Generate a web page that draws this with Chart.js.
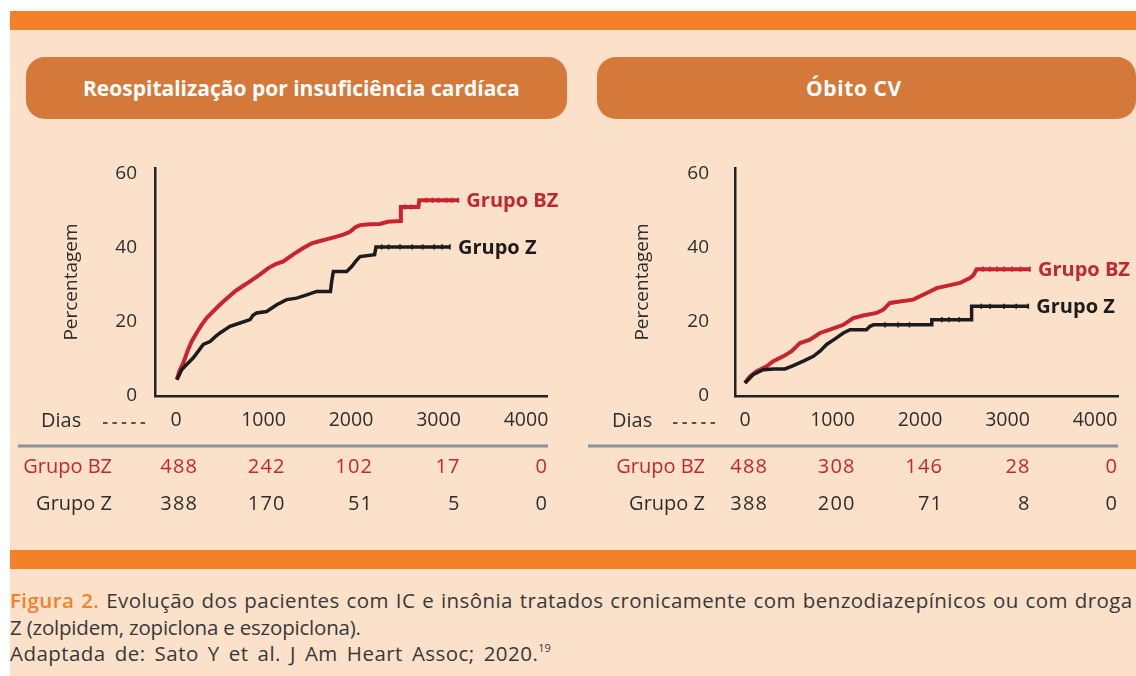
<!DOCTYPE html>
<html><head><meta charset="utf-8">
<script src="https://cdn.jsdelivr.net/npm/chart.js@4.4.1/dist/chart.umd.min.js"></script>
<style>
html,body{margin:0;padding:0;background:#fff;width:1136px;height:676px;overflow:hidden;font-family:"Open Sans",sans-serif;}
#panel{position:absolute;left:10px;top:11px;width:1126px;height:665px;background:#FCE1CA;}
.bar{position:absolute;left:10px;width:1126px;height:19px;background:#F5802A;}
.tbox{position:absolute;top:57px;height:62px;background:#D5793B;border-radius:19px;}
.ttext{position:absolute;top:57px;height:62px;line-height:62px;color:#fff;font-weight:700;font-size:21px;white-space:nowrap;}
canvas{position:absolute;}
#cap{position:absolute;left:10px;top:587px;width:1126px;font-size:20.5px;line-height:26.5px;color:#383838;white-space:nowrap;overflow:hidden;}
#cap .fig{color:#F5802A;font-weight:600;}
#cap sup{font-size:11px;vertical-align:baseline;position:relative;top:-9px;letter-spacing:0;}
</style></head>
<body>
<div id="panel"></div>
<div class="bar" style="top:11px"></div>
<div class="bar" style="top:550px"></div>
<div class="tbox" style="left:26px;width:541px"></div>
<div class="tbox" style="left:597px;width:539px"></div>
<div class="ttext" id="t1" style="left:83px"></div>
<div class="ttext" id="t2" style="left:806px;letter-spacing:0.6px"></div>
<canvas id="c1" width="565" height="410" style="left:10px;top:130px"></canvas>
<canvas id="c2" width="556" height="410" style="left:580px;top:130px"></canvas>
<div id="cap">
<div style="letter-spacing:0.42px;word-spacing:1.1px"><span class="fig">Figura 2.</span> Evolução dos pacientes com IC e insônia tratados cronicamente com benzodiazepínicos ou com droga</div>
<div style="letter-spacing:-0.2px">Z (zolpidem, zopiclona e eszopiclona).</div>
<div style="letter-spacing:0.45px;word-spacing:3.3px">Adaptada de: Sato Y et al. J Am Heart Assoc; 2020.<sup>19</sup></div>
</div>
<script>
// ---- data ----
const panelTitles = ['Reospitalização por insuficiência cardíaca', 'Óbito CV'];
const groups = ['Grupo BZ', 'Grupo Z'];
const xTicks = [0, 1000, 2000, 3000, 4000];
const yTicks = [0, 20, 40, 60];
const yTitle = 'Percentagem';
const xRowLabel = 'Dias';

// Reospitalização por insuficiência cardíaca: [dias, %]
const reospBZ = [[10,4.4],[40,6.8],[84,8.9],[130,12.0],[179,14.7],[240,17.2],[293,19.2],[350,21.0],[408,22.4],[475,24.0],[541,25.5],[610,26.9],[674,28.2],[760,29.6],[846,30.9],[950,32.6],[1055,34.5],[1140,35.6],[1227,36.3],[1340,38.2],[1455,39.9],[1550,41.2],[1646,41.8],[1740,42.4],[1836,43.0],[1920,43.6],[1989,44.3],[2050,45.5],[2103,46.1],[2220,46.3],[2331,46.4],[2420,47.0],[2560,47.2],[2570,51.0],[2770,51.0],[2781,52.8],[3227,52.8]];
const reospZ = [[10,4.4],[65,7.1],[122,8.5],[198,10.3],[255,12.1],[312,13.9],[389,14.7],[450,16.0],[503,17.0],[617,18.8],[731,19.7],[846,20.6],[880,21.8],[922,22.4],[1036,22.8],[1100,23.8],[1151,24.6],[1265,26.0],[1379,26.4],[1494,27.3],[1608,28.2],[1765,28.2],[1779,30.9],[1798,33.6],[1951,33.6],[2008,34.9],[2060,36.5],[2103,37.6],[2270,38.1],[2285,40.2],[3131,40.2]];
const reospBZCensor = [[2620,51.0],[2690,51.0],[2860,52.8],[2930,52.8],[3000,52.8],[3090,52.8],[3150,52.8],[3227,52.8]];
const reospZCensor = [[2350,40.2],[2430,40.2],[2560,40.2],[2700,40.2],[2820,40.2],[2950,40.2],[3040,40.2],[3131,40.2]];
// Óbito CV: [dias, %]
const obitoBZ = [[0,3.5],[57,5.3],[133,6.7],[248,8.0],[324,9.4],[438,10.7],[533,12.1],[629,14.3],[743,15.2],[857,17.0],[971,17.9],[1124,19.2],[1238,21.0],[1352,21.7],[1505,22.4],[1581,23.3],[1657,25.1],[1771,25.5],[1924,26.0],[2000,26.9],[2114,28.2],[2190,29.1],[2305,29.7],[2457,30.5],[2571,31.8],[2610,32.6],[2648,34.2],[3257,34.2]];
const obitoZ = [[0,3.5],[95,5.8],[210,7.1],[324,7.3],[457,7.3],[552,8.2],[667,9.4],[781,10.7],[857,12.1],[933,13.9],[1029,15.4],[1124,17.0],[1200,17.9],[1390,17.9],[1430,18.8],[1467,19.2],[2130,19.2],[2135,20.6],[2585,20.6],[2590,24.2],[3238,24.2]];
const obitoBZCensor = [[2720,34.2],[2800,34.2],[2880,34.2],[2960,34.2],[3050,34.2],[3150,34.2],[3257,34.2]];
const obitoZCensor = [[1600,19.2],[1750,19.2],[1880,19.2],[2250,20.6],[2330,20.6],[2450,20.6],[2700,24.2],[2800,24.2],[2960,24.2],[3100,24.2],[3238,24.2]];

// números em risco
const riskReospBZ = [488, 242, 102, 17, 0];
const riskReospZ = [388, 170, 51, 5, 0];
const riskObitoBZ = [488, 308, 146, 28, 0];
const riskObitoZ = [388, 200, 71, 8, 0];

// ---- styles ----
const RED = '#C8242F', BLACK = '#1c1c1c', TXT = '#2e2e2e', RED_TXT = '#C1272D';
const FONT = '"Open Sans", sans-serif';

document.getElementById('t1').textContent = panelTitles[0];
document.getElementById('t2').textContent = panelTitles[1];

const toXY = arr => arr.map(([x, y]) => ({x, y}));

function makeTablePlugin(t) {
  return {
    id: 'riskTable',
    afterDraw(chart) {
      const ctx = chart.ctx, xs = chart.scales.x;
      ctx.save();
      ctx.font = '20px ' + FONT;
      ctx.textBaseline = 'alphabetic';
      ctx.fillStyle = TXT;
      ctx.textAlign = 'left';
      ctx.fillText(xRowLabel, t.diasX, t.diasY);
      ctx.strokeStyle = TXT; ctx.lineWidth = 1.6;
      for (let i = 0; i < 5; i++) {
        const x = t.dashX + i * 9.4;
        ctx.beginPath(); ctx.moveTo(x, t.diasY - 4); ctx.lineTo(x + 4.5, t.diasY - 4); ctx.stroke();
      }
      ctx.strokeStyle = '#8c9299'; ctx.lineWidth = 3;
      ctx.beginPath(); ctx.moveTo(t.ruleL, t.ruleY); ctx.lineTo(t.ruleR, t.ruleY); ctx.stroke();
      t.rows.forEach(r => {
        ctx.fillStyle = r.color;
        ctx.textAlign = 'right';
        ctx.letterSpacing = '0px';
        ctx.fillText(r.label, t.labelR, r.y);
        ctx.letterSpacing = '1.2px';
        r.values.forEach((v, i) => ctx.fillText(String(v), xs.getPixelForValue(xTicks[i]) + t.numOff + 1.2, r.y));
      });
      ctx.restore();
    },
    afterDatasetsDraw(chart) {
      const ctx = chart.ctx;
      ctx.save();
      ctx.font = 'bold 20px ' + FONT;
      ctx.textAlign = 'left';
      ctx.textBaseline = 'alphabetic';
      chart.data.datasets.forEach((ds, i) => {
        if (!ds.endLabel) return;
        const pts = chart.getDatasetMeta(i).data;
        const p = pts[pts.length - 1];
        ctx.fillStyle = ds.endColor;
        ctx.fillText(ds.endLabel, p.x + 8, p.y + 7);
      });
      ctx.restore();
    }
  };
}

function makeChart(id, cfg) {
  const lineDs = (data, color, w, label) => ({
    type: 'line', data: toXY(data), borderColor: color, backgroundColor: color,
    borderWidth: w, pointRadius: 0, tension: 0, fill: false,
    endLabel: label, endColor: label === groups[0] ? RED_TXT : BLACK
  });
  const censorDs = (data, color) => ({
    type: 'scatter', data: toXY(data), borderColor: color, backgroundColor: color,
    pointStyle: 'line', rotation: 90, pointRadius: 2.6, borderWidth: 1.6, showLine: false
  });
  return new Chart(document.getElementById(id), {
    type: 'line',
    data: {
      datasets: [
        censorDs(cfg.zCensor, BLACK),
        lineDs(cfg.z, BLACK, 3.5, groups[1]),
        censorDs(cfg.bzCensor, RED),
        lineDs(cfg.bz, RED, 4, groups[0])
      ]
    },
    options: {
      responsive: false, animation: false,
      layout: {padding: {left: cfg.padL, top: 38, right: cfg.padR, bottom: 0}},
      plugins: {legend: {display: false}, tooltip: {enabled: false}},
      scales: {
        x: {
          type: 'linear', min: cfg.xMin, max: cfg.xMax,
          afterBuildTicks: s => { s.ticks = xTicks.map(v => ({value: v})); },
          afterFit: s => { s.height = 144; },
          grid: {display: false, drawTicks: false},
          border: {display: true, color: '#222', width: 2.5},
          ticks: {padding: 13, color: TXT, maxRotation: 0, autoSkip: false,
                  font: {family: FONT, size: 19.5}, callback: v => String(v)}
        },
        y: {
          type: 'linear', min: 0, max: 61.5,
          afterBuildTicks: s => { s.ticks = yTicks.map(v => ({value: v})); },
          afterFit: s => { s.width = cfg.yW; },
          grid: {display: false, drawTicks: false},
          border: {display: true, color: '#222', width: 2.5},
          ticks: {padding: cfg.yPad, color: TXT, font: {family: FONT, size: 19}, callback: v => String(v)},
          title: {display: true, text: yTitle, color: TXT, font: {family: FONT, size: 19}, padding: {top: 4, bottom: 4}}
        }
      }
    },
    plugins: [makeTablePlugin(cfg.table)]
  });
}

makeChart('c1', {
  bz: reospBZ, z: reospZ, bzCensor: reospBZCensor, zCensor: reospZCensor,
  xMin: -240, xMax: 4240, padL: 46, padR: 28, yW: 99, yPad: 18,
  table: {diasX: 31, diasY: 297, dashX: 93, ruleL: 8, ruleR: 538, ruleY: 316, labelR: 102, numOff: 21,
          rows: [{label: groups[0], color: RED_TXT, values: riskReospBZ, y: 343},
                 {label: groups[1], color: TXT, values: riskReospZ, y: 380}]}
});
makeChart('c2', {
  bz: obitoBZ, z: obitoZ, bzCensor: obitoBZCensor, zCensor: obitoZCensor,
  xMin: -114, xMax: 4263, padL: 47, padR: 18, yW: 108, yPad: 26,
  table: {diasX: 32, diasY: 297, dashX: 93, ruleL: 8, ruleR: 538, ruleY: 316, labelR: 125, numOff: 22,
          rows: [{label: groups[0], color: RED_TXT, values: riskObitoBZ, y: 343},
                 {label: groups[1], color: TXT, values: riskObitoZ, y: 380}]}
});
</script>
</body></html>
